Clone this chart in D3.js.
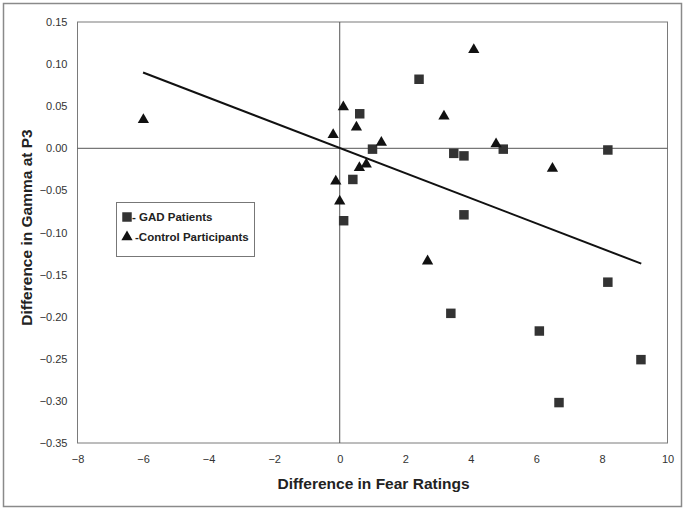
<!DOCTYPE html>
<html><head><meta charset="utf-8">
<script src="https://cdn.jsdelivr.net/npm/d3@7"></script>
<style>body{margin:0;background:#fff;} svg{display:block;font-family:"Liberation Sans",Arial,sans-serif;}</style>
</head><body>
<svg id="c" width="686" height="511"></svg>
<script>
// GAD patients: [fear rating difference, gamma difference]
const gadX = [2.42, 0.61, 1.0, 3.48, 3.79, 4.99, 8.18, 0.40, 0.12, 3.79, 8.18, 3.39, 6.09, 9.19, 6.69];
const gadY = [0.082, 0.041, -0.001, -0.006, -0.009, -0.001, -0.002, -0.037, -0.086, -0.079, -0.159, -0.196, -0.217, -0.251, -0.302];
// Control participants
const ctlX = [-5.99, 4.09, 0.11, 3.18, 0.51, -0.20, 1.27, 4.77, 0.60, 0.81, -0.12, 0.0, 6.49, 2.68];
const ctlY = [0.034, 0.117, 0.049, 0.038, 0.025, 0.016, 0.007, 0.005, -0.023, -0.019, -0.039, -0.063, -0.024, -0.134];
// Trend line endpoints
const trendX = [-6.0, 9.2];
const trendY = [0.090, -0.137];
const xTicks = [-8, -6, -4, -2, 0, 2, 4, 6, 8, 10];
const yTicks = [0.15, 0.10, 0.05, 0.00, -0.05, -0.10, -0.15, -0.20, -0.25, -0.30, -0.35];
const legendLabels = ["- GAD Patients", "-Control Participants"];

const svg = d3.select("#c");
const L = 77.5, R = 667.5, T = 22, B = 443;
const x = d3.scaleLinear().domain([-8, 10]).range([L, R]);
const y = d3.scaleLinear().domain([-0.35, 0.15]).range([B, T]);

// outer border
svg.append("rect").attr("x", 3.5).attr("y", 3.5).attr("width", 678).attr("height", 503)
  .attr("fill", "#fff").attr("stroke", "#8a8a8a").attr("stroke-width", 1.5);

// plot frame
svg.append("rect").attr("x", L).attr("y", T).attr("width", R - L).attr("height", B - T)
  .attr("fill", "none").attr("stroke", "#7a7a7a").attr("stroke-width", 1);

// axes (labels only, positioned via d3 axes)
const xAxis = svg.append("g").attr("transform", `translate(0,${B})`)
  .call(d3.axisBottom(x).tickValues(xTicks).tickSize(0).tickPadding(12).tickFormat(d3.format("d")));
const yAxis = svg.append("g").attr("transform", `translate(${L},0)`)
  .call(d3.axisLeft(y).tickValues(yTicks).tickSize(0).tickPadding(10).tickFormat(d3.format(".2f")));
[xAxis, yAxis].forEach(a => {
  a.select(".domain").remove();
  a.selectAll("text").attr("font-size", 11).attr("fill", "#333")
    .attr("font-family", "'Liberation Sans', Arial, sans-serif");
});

// zero lines
svg.append("line").attr("x1", L).attr("x2", R).attr("y1", y(0)).attr("y2", y(0))
  .attr("stroke", "#555").attr("stroke-width", 1);
svg.append("line").attr("x1", x(0)).attr("x2", x(0)).attr("y1", T).attr("y2", B)
  .attr("stroke", "#555").attr("stroke-width", 1);

// trend line
svg.append("line").attr("x1", x(trendX[0])).attr("y1", y(trendY[0]))
  .attr("x2", x(trendX[1])).attr("y2", y(trendY[1]))
  .attr("stroke", "#111").attr("stroke-width", 2);

// markers
const sq = d3.symbol().type(d3.symbolSquare).size(90);
const tri = d3.symbol().type(d3.symbolTriangle).size(55);
svg.append("g").selectAll("path").data(gadX.map((v, i) => [v, gadY[i]])).join("path")
  .attr("d", sq).attr("transform", d => `translate(${x(d[0])},${y(d[1])})`).attr("fill", "#333");
svg.append("g").selectAll("path").data(ctlX.map((v, i) => [v, ctlY[i]])).join("path")
  .attr("d", tri).attr("transform", d => `translate(${x(d[0])},${y(d[1])})`).attr("fill", "#111");

// legend
const lg = svg.append("g");
lg.append("rect").attr("x", 116.5).attr("y", 202.5).attr("width", 138).attr("height", 54)
  .attr("fill", "#fff").attr("stroke", "#777").attr("stroke-width", 1);
lg.append("path").attr("d", sq).attr("transform", "translate(127,217)").attr("fill", "#333");
lg.append("path").attr("d", tri).attr("transform", "translate(127,237)").attr("fill", "#111");
lg.append("text").attr("x", 132).attr("y", 221).text(legendLabels[0])
  .attr("font-size", 11.5).attr("font-weight", "bold").attr("fill", "#222");
lg.append("text").attr("x", 135).attr("y", 241).text(legendLabels[1])
  .attr("font-size", 11.5).attr("font-weight", "bold").attr("fill", "#222");

// axis titles
svg.append("text").attr("x", (L + R) / 2 + 1).attr("y", 489).attr("text-anchor", "middle")
  .attr("font-size", 15.5).attr("font-weight", "bold").attr("fill", "#222").text("Difference in Fear Ratings");
svg.append("text").attr("transform", `translate(32,${(T + B) / 2 - 5}) rotate(-90)`).attr("text-anchor", "middle")
  .attr("font-size", 15.5).attr("font-weight", "bold").attr("fill", "#222").text("Difference in Gamma at P3");
</script>
</body></html>
